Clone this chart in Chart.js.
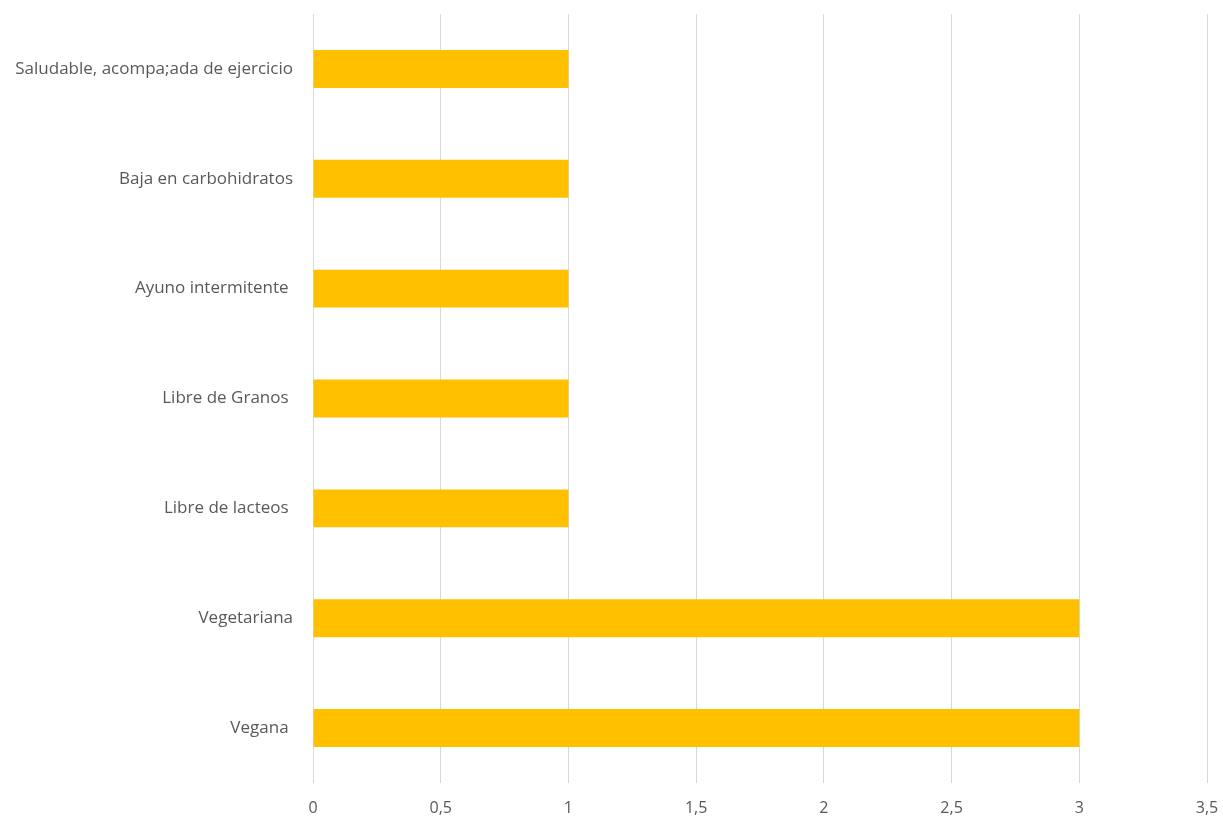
<!DOCTYPE html>
<html>
<head>
<meta charset="utf-8">
<script src="https://cdn.jsdelivr.net/npm/chart.js@4/dist/chart.umd.min.js"></script>
<style>
    html, body { margin: 0; padding: 0; background: #fff; }
    #wrap { width: 1223px; height: 817px; }
</style>
</head>
<body>
<div id="wrap"><canvas id="dietasChart" width="1223" height="817"></canvas></div>
<script>
// Tipos de dieta y número de respuestas
var dietas = [
    'Saludable, acompa;ada de ejercicio',
    'Baja en carbohidratos',
    'Ayuno intermitente ',
    'Libre de Granos ',
    'Libre de lacteos ',
    'Vegetariana',
    'Vegana '
];
var respuestas = [1, 1, 1, 1, 1, 3, 3];
var ticksX = [0, 0.5, 1, 1.5, 2, 2.5, 3, 3.5];

var colorTexto = '#595959';
var colorGrid = '#d9d9d9';

// quita el margen extra que Chart.js reserva para las etiquetas de los extremos
function sinRelleno(axis) {
    axis.paddingTop = 0;
    axis.paddingBottom = 0;
    axis.paddingLeft = 0;
    axis.paddingRight = 0;
}

var ctx = document.getElementById('dietasChart').getContext('2d');

new Chart(ctx, {
    type: 'bar',
    data: {
        labels: dietas,
        datasets: [{
            data: respuestas,
            backgroundColor: '#ffc000',
            borderWidth: 0,
            barPercentage: 0.69,
            categoryPercentage: 0.5
        }]
    },
    options: {
        indexAxis: 'y',
        responsive: false,
        animation: false,
        layout: { padding: { top: 14, right: 16, left: 0, bottom: 0 } },
        plugins: {
            legend: { display: false },
            tooltip: { enabled: false }
        },
        scales: {
            x: {
                min: 0,
                max: 3.5,
                afterBuildTicks: function (axis) {
                    axis.ticks = ticksX.map(v => ({ value: v }));
                },
                afterFit: function (axis) {
                    axis.height = 34;
                    sinRelleno(axis);
                },
                border: { display: false },
                grid: { color: colorGrid, lineWidth: 1, drawTicks: false },
                ticks: {
                    color: colorTexto,
                    padding: 16,
                    font: { family: 'Open Sans', size: 16 },
                    callback: function (v) { return String(v).replace('.', ','); }
                }
            },
            y: {
                afterFit: function (axis) {
                    axis.width = 313;
                    sinRelleno(axis);
                },
                border: { display: false },
                grid: { display: false },
                ticks: {
                    color: colorTexto,
                    padding: 12,
                    font: { family: 'Open Sans', size: 17 }
                }
            }
        }
    }
});
</script>
</body>
</html>
